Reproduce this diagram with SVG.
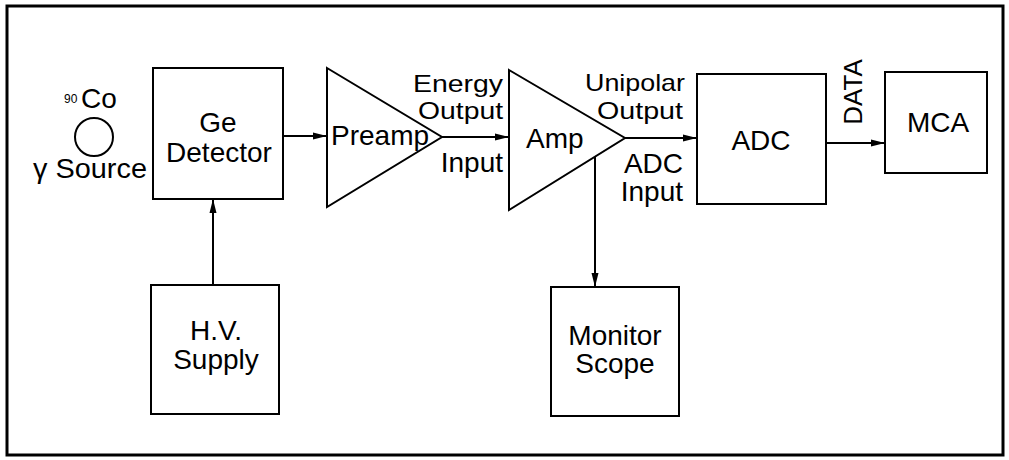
<svg xmlns="http://www.w3.org/2000/svg" width="1009" height="460" viewBox="0 0 1009 460">
<defs>
<style>
.box{fill:#fff;stroke:#000;stroke-width:2}
.frame{fill:none;stroke:#000;stroke-width:3}
.tri{fill:none;stroke:#000;stroke-width:2;stroke-linejoin:miter}
.wire{fill:none;stroke:#000;stroke-width:2}
text{font-family:"Liberation Sans",Arial,Helvetica,sans-serif;font-size:28px;fill:#000}
.mid{text-anchor:middle}
.end{text-anchor:end}
.sm{font-size:24px}
</style>
<marker id="arr" viewBox="0 0 14 8" refX="14" refY="4" markerWidth="14" markerHeight="8" markerUnits="userSpaceOnUse" orient="auto">
<path d="M0,0.5 L14,4 L0,7.5 Z" fill="#000"/>
</marker>
</defs>
<rect width="1009" height="460" fill="#fff"/>
<rect class="frame" x="7" y="6" width="996" height="449"/>

<g id="source">
<text x="64" y="103" style="font-size:12px">90</text>
<text x="81" y="108">Co</text>
<circle cx="94" cy="137" r="19" fill="none" stroke="#000" stroke-width="2"/>
<text x="33" y="178" textLength="114" lengthAdjust="spacingAndGlyphs">γ Source</text>
</g>

<g id="ge-detector">
<rect class="box" x="153" y="68" width="130" height="131"/>
<text class="mid" x="218" y="132">Ge</text>
<text class="mid" x="219" y="162">Detector</text>
</g>

<g id="hv-supply">
<rect class="box" x="151" y="285" width="128" height="129"/>
<text class="mid" x="216" y="340">H.V.</text>
<text class="mid" x="216" y="369">Supply</text>
</g>

<g id="preamp">
<polygon class="tri" points="327,68 442,137 327,207"/>
<text x="331" y="145">Preamp</text>
</g>

<g id="amp">
<polygon class="tri" points="509,70 625,138 509,210"/>
<text x="526" y="148">Amp</text>
</g>

<g id="adc">
<rect class="box" x="697" y="74" width="129" height="130"/>
<text class="mid" x="761" y="150">ADC</text>
</g>

<g id="mca">
<rect class="box" x="885" y="72" width="102" height="101"/>
<text class="mid" x="938" y="132">MCA</text>
</g>

<g id="monitor-scope">
<rect class="box" x="551" y="287" width="128" height="129"/>
<text class="mid" x="615" y="345">Monitor</text>
<text class="mid" x="615" y="373">Scope</text>
</g>

<g id="connectors">
<line class="wire" x1="283" y1="136" x2="327" y2="136" marker-end="url(#arr)"/>
<line class="wire" x1="442" y1="137" x2="509" y2="137" marker-end="url(#arr)"/>
<line class="wire" x1="625" y1="138" x2="697" y2="138" marker-end="url(#arr)"/>
<line class="wire" x1="826" y1="143" x2="885" y2="143" marker-end="url(#arr)"/>
<line class="wire" x1="595" y1="157" x2="595" y2="287" marker-end="url(#arr)"/>
<line class="wire" x1="213" y1="285" x2="213" y2="199" marker-end="url(#arr)"/>
</g>

<g id="labels">
<text class="end sm" x="503" y="92" textLength="90" lengthAdjust="spacingAndGlyphs">Energy</text>
<text class="end sm" x="503" y="119" textLength="85" lengthAdjust="spacingAndGlyphs">Output</text>
<text class="end" x="503" y="172">Input</text>
<text class="end sm" x="685" y="91" textLength="100" lengthAdjust="spacingAndGlyphs">Unipolar</text>
<text class="end sm" x="683" y="119" textLength="86" lengthAdjust="spacingAndGlyphs">Output</text>
<text class="end" x="683" y="173">ADC</text>
<text class="end" x="683" y="201">Input</text>
<text class="mid" transform="translate(862,92) rotate(-90)" style="font-size:26px">DATA</text>
</g>
</svg>
